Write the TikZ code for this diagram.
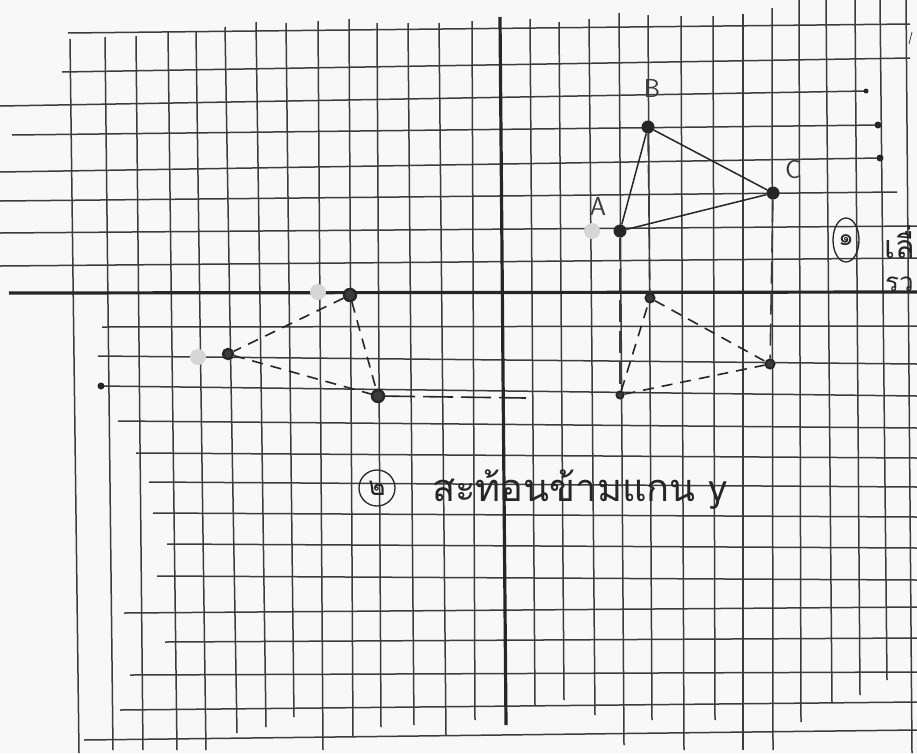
\documentclass[tikz,border=0pt]{standalone}
\usepackage{fontspec}
\usetikzlibrary{shapes.geometric}
\newfontfamily\thaifont[Script=Thai]{Loma}
\definecolor{paper}{HTML}{F8F8F8}
\definecolor{gridc}{HTML}{3C3C3C}
\definecolor{ink}{HTML}{262626}
\definecolor{faded}{HTML}{D6D6D6}
\begin{document}
\begin{tikzpicture}[x=1pt,y=-1pt,
  gridline/.style={draw=gridc, line width=1.5pt},
  axisline/.style={draw=ink, line width=3.2pt},
  solidside/.style={draw=ink, line width=1.5pt},
  dashside/.style={draw=ink, line width=1.6pt, dash pattern=on 11pt off 8pt},
  projline/.style={draw=gridc, line width=1.6pt, dash pattern=on 22pt off 9pt},
  dot/.style={circle, fill=ink, inner sep=0pt, minimum size=13pt},
  ring/.style={circle, draw=ink, line width=2.4pt, fill=gridc, inner sep=0pt, minimum size=12pt},
  smalldot/.style={circle, draw=ink, line width=2pt, fill=gridc, inner sep=0pt, minimum size=9pt},
  blob/.style={circle, fill=faded, inner sep=0pt, minimum size=16pt},
  inkmark/.style={circle, fill=ink, inner sep=0pt, minimum size=5pt},
  ptlabel/.style={font=\sffamily\fontsize{26}{28}\selectfont, text=gridc},
  thaitext/.style={font=\thaifont\fontsize{38}{42}\selectfont, text=ink, inner sep=0pt}]
\useasboundingbox (0,0) rectangle (917,753);
\fill[paper] (0,0) rectangle (917,753);

% vertical grid lines
\foreach \xa/\ya/\xb/\yb in {70/39/79/753, 105/37/113/750, 136/36/143/750, 168/32/177/750,
  196/32/206/750, 225/27/237/733, 256/22/266/727, 286/23/294/717, 318/21/323/750,
  349/19/353/737, 377/23/381/727, 408/23/414/725, 439/23/446/735, 472/21/475/720,
  530/19/535/705, 559/22/564/700, 589/19/595/715, 619/13/624/745, 648/15/652/720,
  681/16/684/750, 713/16/715/720, 743/14/743/750, 772/8/773/750, 799/0/801/722,
  826/0/832/703, 855/0/860/695, 880/0/887/680, 906/0/912/753}
  \draw[gridline] (\xa,\ya) -- (\xb,\yb);

% horizontal grid lines
\foreach \xa/\ya/\xb/\yb in {68/33/910/24, 62/72/910/58, 0/106/866/91, 12/135/880/125,
  0/172/880/158, 0/201/897/192, 0/233/917/226, 0/266/917/258,
  102/327/917/326, 98/356/917/364, 100/386/917/396, 118/421/917/428,
  136/453/917/458, 149/482/917/487, 153/513/917/517, 167/544/917/548,
  157/576/917/580, 124/613/917/607, 165/642/917/638, 130/675/917/672,
  120/710/917/702, 84/740/917/730}
  \draw[gridline] (\xa,\ya) -- (\xb,\yb);

% axes
\draw[axisline] (9,293) -- (917,292);
\draw[axisline] (500,17) -- (506,725);

% ink marks at line ends
\node[inkmark] (m1) at (866,91) {};
\node[inkmark, minimum size=7pt] (m2) at (878,125) {};
\node[inkmark, minimum size=7pt] (m3) at (880,158) {};
\node[inkmark, minimum size=7pt] (m4) at (101,386) {};
\draw[gridc, line width=0.8pt] (912,32) -- (909,44);

% faded (erased) points
\node[blob] (e1) at (318,292) {};
\node[blob] (e2) at (198,357) {};
\node[blob] (e3) at (592,231) {};

% original triangle ABC
\node[dot] (A) at (620,231) {};
\node[dot] (B) at (648,127) {};
\node[dot] (C) at (773,193) {};
\draw[solidside] (A) -- (B) -- (C) -- (A);
\node[ptlabel] (lA) at (598,206) {A};
\node[ptlabel] (lB) at (652,88) {B};
\node[ptlabel] (lC) at (793,170) {C};

% reflected triangle (below x-axis)
\node[smalldot] (B1) at (650,298) {};
\node[smalldot, minimum size=7pt] (A1) at (620,395) {};
\node[smalldot] (C1) at (770,364) {};
\draw[projline] (B) -- (B1);
\draw[projline] (A) -- (A1);
\draw[projline] (C) -- (C1);
\draw[dashside] (B1) -- (C1);
\draw[dashside] (A1) -- (C1);
\draw[dashside] (A1) -- (B1);

% reflected across y-axis
\node[ring] (B2) at (350,295) {};
\node[ring, minimum size=10pt] (A2) at (228,354) {};
\node[ring] (C2) at (378,396) {};
\coordinate (E2) at (526,398);
\draw[dashside] (B2) -- (A2);
\draw[dashside] (A2) -- (C2);
\draw[dashside] (B2) -- (C2);
\draw[dashside, dash pattern=on 30pt off 8pt] (C2) -- (E2);

% text 2
\node[circle, draw=ink, line width=1.3pt, minimum size=36pt, inner sep=0pt,
      font=\thaifont\fontsize{26}{28}\selectfont, text=ink] (n2) at (377,488) {๒};
\node[thaitext, anchor=west] (t2) at (432,490) {สะท้อนข้ามแกน y};

% text 1 (cut off at right edge)
\node[ellipse, draw=ink, line width=1.3pt, minimum width=26pt, minimum height=44pt, inner sep=0pt,
      font=\thaifont\fontsize{24}{26}\selectfont, text=ink] (n1) at (846,240) {๑};
\node[thaitext, anchor=west, font=\thaifont\fontsize{32}{36}\selectfont] (t1) at (884,242) {เลื่};
\node[thaitext, anchor=west, font=\thaifont\fontsize{26}{28}\selectfont] (t1b) at (885,284) {รว};
\end{tikzpicture}
\end{document}
